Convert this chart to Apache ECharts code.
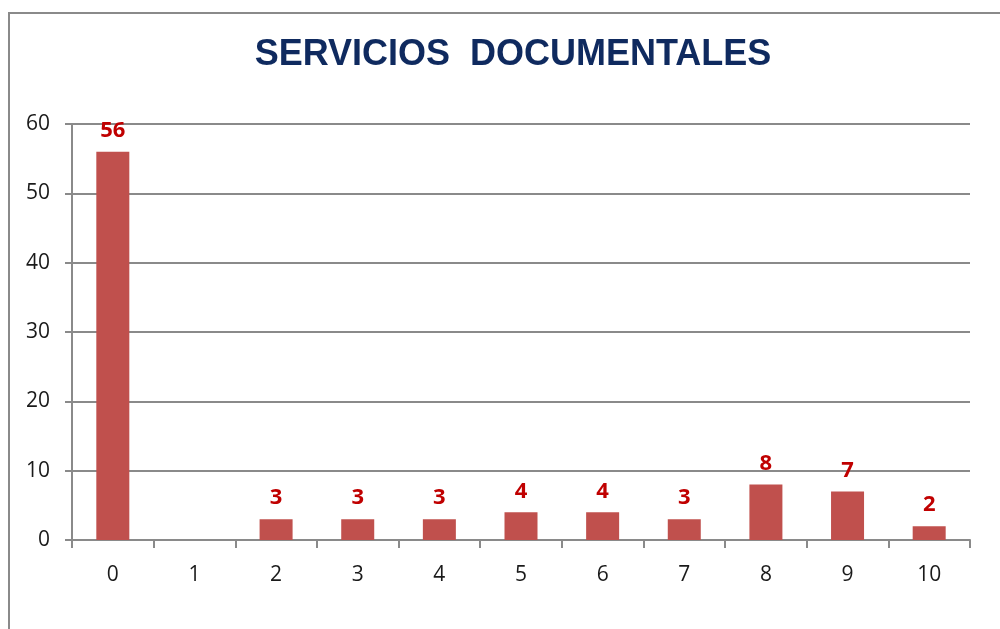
<!DOCTYPE html>
<html><head><meta charset="utf-8">
<script src="https://cdn.jsdelivr.net/npm/echarts@6/dist/echarts.min.js"></script>
<style>html,body{margin:0;padding:0;background:#fff}#c{width:1000px;height:629px;position:relative}
#frame{position:absolute;left:8px;top:12px;width:1100px;height:700px;border:2px solid #8a8a8a;box-sizing:border-box;pointer-events:none}</style>
</head><body><div id="c"></div><div id="frame" style="position:absolute"></div>
<script>
const title = 'SERVICIOS  DOCUMENTALES';
const categories = ['0','1','2','3','4','5','6','7','8','9','10'];
const values = [56, 0, 3, 3, 3, 4, 4, 3, 8, 7, 2];
const yTicks = {min: 0, max: 60, interval: 10};

const chart = echarts.init(document.getElementById('c'));
chart.setOption({
  animation: false,
  backgroundColor: 'transparent',
  title: {text: title, left: 508, textAlign: 'center', top: 32,
    textStyle: {fontFamily: 'Liberation Sans', fontWeight: 'bold', fontSize: 36, color: '#0F2A5F'}},
  grid: {left: 72, right: 30, top: 124, bottom: 89},
  xAxis: {type: 'category', data: categories,
    axisLine: {lineStyle: {color: '#8a8a8a', width: 2}},
    axisTick: {show: true, alignWithLabel: false, length: 8, lineStyle: {color: '#8a8a8a', width: 2}},
    axisLabel: {fontFamily: 'Open Sans', fontSize: 21, color: '#1a1a1a', margin: 25}},
  yAxis: {type: 'value', min: yTicks.min, max: yTicks.max, interval: yTicks.interval,
    axisLine: {show: true, lineStyle: {color: '#8a8a8a', width: 2}},
    axisTick: {show: true, length: 7, lineStyle: {color: '#8a8a8a', width: 2}},
    splitLine: {lineStyle: {color: '#8a8a8a', width: 2}},
    axisLabel: {fontFamily: 'Open Sans', fontSize: 21, color: '#1a1a1a', margin: 22}},
  series: [{type: 'bar', data: values, barWidth: 33,
    itemStyle: {color: '#C0504D'},
    label: {show: true, position: 'top', distance: 10,
      formatter: p => p.value === 0 ? '' : p.value,
      fontFamily: 'Open Sans', fontWeight: 'bold', fontSize: 22, color: '#C00000'}}]
});
</script></body></html>
